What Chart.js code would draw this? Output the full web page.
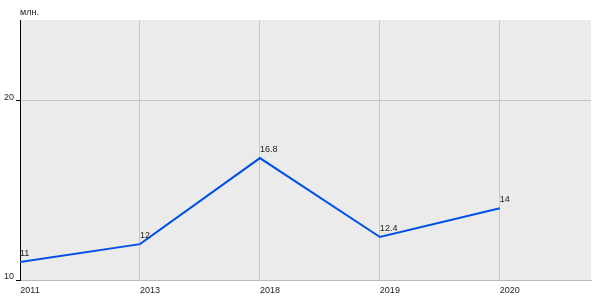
<!DOCTYPE html>
<html>
<head>
<meta charset="utf-8">
<script src="https://cdn.jsdelivr.net/npm/chart.js@4/dist/chart.umd.min.js"></script>
<style>
  html, body { margin: 0; padding: 0; background: #fff; }
  #wrap { width: 600px; height: 300px; }
</style>
</head>
<body>
<div id="wrap"><canvas id="chart" width="600" height="300"></canvas></div>
<script>
// data
const years = ['2011', '2013', '2018', '2019', '2020'];
const values = [11, 12, 16.8, 12.4, 14];
const yTicks = [10, 20];
const unitLabel = 'млн.';

const FONT = 'Arial, "Liberation Sans", sans-serif';

// grey plot background
const bgPlugin = {
  id: 'bg',
  beforeDraw(chart) {
    const a = chart.chartArea;
    const ctx = chart.ctx;
    ctx.save();
    ctx.fillStyle = '#ebebeb';
    ctx.fillRect(a.left, a.top, a.right - a.left, a.bottom - a.top);
    ctx.restore();
  }
};

// value labels next to points + unit caption
const labelPlugin = {
  id: 'labels',
  afterDatasetsDraw(chart) {
    const ctx = chart.ctx;
    const meta = chart.getDatasetMeta(0);
    ctx.save();
    ctx.font = '9px ' + FONT;
    ctx.fillStyle = '#222';
    ctx.textAlign = 'left';
    ctx.textBaseline = 'alphabetic';
    meta.data.forEach((pt, i) => {
      ctx.fillText(String(values[i]), pt.x, pt.y - 6);
    });
    ctx.fillText(unitLabel, chart.chartArea.left, chart.chartArea.top - 5);
    ctx.restore();
  }
};

new Chart(document.getElementById('chart'), {
  type: 'line',
  data: {
    datasets: [{
      data: values.map((v, i) => ({ x: i, y: v })),
      borderColor: '#0050e6',
      borderWidth: 2,
      pointRadius: 0,
      tension: 0,
      fill: false
    }]
  },
  options: {
    responsive: false,
    animation: false,
    layout: { padding: { top: 20, right: 9, left: 0, bottom: 0 } },
    plugins: { legend: { display: false }, tooltip: { enabled: false } },
    scales: {
      x: {
        type: 'linear',
        min: 0,
        max: 4.76,
        afterBuildTicks(scale) { scale.ticks = years.map((y, i) => ({ value: i })); },
        afterFit(scale) { scale.height = 20; },
        ticks: {
          callback: (v) => years[v],
          font: { family: FONT, size: 9 },
          color: '#222',
          maxRotation: 0,
          autoSkip: false,
          labelOffset: 10,
          padding: 5
        },
        grid: { color: '#c8c8c8', drawTicks: false },
        border: { color: '#bbbbbb', width: 1 }
      },
      y: {
        min: 10,
        max: 24.5,
        afterBuildTicks(scale) { scale.ticks = yTicks.map(v => ({ value: v })); },
        afterFit(scale) { scale.width = 20; },
        ticks: {
          font: { family: FONT, size: 9 },
          color: '#222',
          labelOffset: -3,
          padding: 2
        },
        grid: { color: '#c8c8c8', tickColor: '#000', tickLength: 4 },
        border: { color: '#000', width: 1 }
      }
    }
  },
  plugins: [bgPlugin, labelPlugin]
});
</script>
</body>
</html>
